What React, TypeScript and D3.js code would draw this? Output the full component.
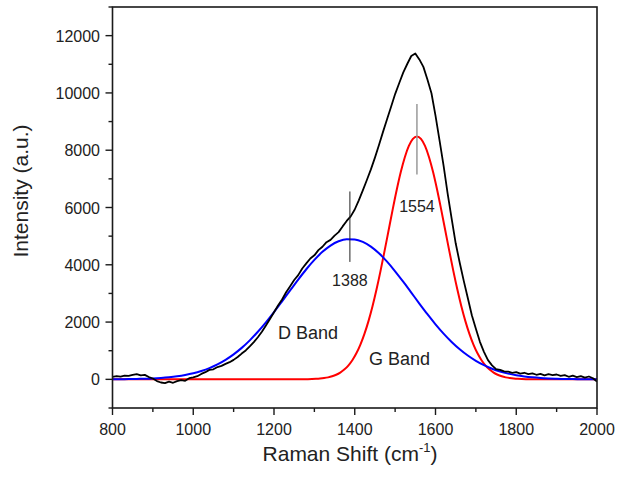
import React from "react";
import * as d3 from "d3";

// Raman shift grid of the measured spectrum (cm-1)
const shiftStart = 800;
const shiftStep = 10;
const measured = [
  90, 110, 95, 130, 120, 160, 185, 140, 155, 80,
  30, -60, -110, -130, -80, -120, -60, -30, -50, 40,
  70, 110, 190, 250, 330, 350, 430, 470, 540, 600,
  680, 780, 900, 1010, 1150, 1300, 1470, 1660, 1880, 2110,
  2340, 2580, 2790, 3040, 3250, 3470, 3640, 3870, 4050, 4220,
  4330, 4510, 4630, 4790, 4870, 5020, 5140, 5340, 5530, 5690,
  5930, 6250, 6600, 6960, 7330, 7740, 8180, 8640, 9080, 9520,
  9960, 10340, 10710, 11010, 11290, 11380, 11170, 10910, 10470, 9990,
  9210, 8340, 7460, 6490, 5610, 4750, 4070, 3440, 2840, 2240,
  1770, 1310, 960, 670, 490, 360, 330, 280, 270, 230,
  250, 200, 230, 180, 210, 160, 190, 140, 180, 150,
  170, 120, 150, 90, 130, 80, 110, 60, 100, 40,
  -80,
];

// D band fit (sampled every 20 cm-1 from 800)
const dBandStart = 800;
const dBandStep = 20;
const dBand = [
  4, 6, 9, 15, 23, 34, 51, 75, 108, 153,
  213, 293, 394, 522, 681, 872, 1099, 1362, 1661, 1991,
  2348, 2723, 3106, 3484, 3844, 4170, 4451, 4671, 4821, 4893,
  4885, 4797, 4632, 4399, 4109, 3774, 3410, 3030, 2647, 2275,
  1923, 1599, 1307, 1051, 831, 646, 494, 372, 275, 200,
  143, 101, 70, 47, 32, 21, 14, 9, 5, 3,
  2,
];

// G band fit (sampled every 10 cm-1 from 1254 to 1854)
const gBandStart = 1254;
const gBandStep = 10;
const gBand = [
  1, 2, 4, 6, 10, 17, 28, 45, 70, 107,
  160, 236, 341, 482, 669, 910, 1214, 1586, 2033, 2553,
  3145, 3797, 4494, 5216, 5934, 6618, 7236, 7756, 8150, 8396,
  8480,
  8396, 8150, 7756, 7236, 6618, 5934, 5216, 4494, 3797, 3145,
  2553, 2033, 1586, 1214, 910, 669, 482, 341, 236, 160,
  107, 70, 45, 28, 17, 10, 6, 4, 2, 1,
];

const peakPositions = [1388, 1554];
const peakLabels = ["1388", "1554"];
const peakMarkerRanges = [
  [4100, 6560],
  [7150, 9610],
];
const bandNames = ["D Band", "G Band"];
const bandLabelPos = [
  [1210, 1400],
  [1435, 500],
];

const xDomain = [800, 2000];
const yDomain = [-1000, 13000];
const xMajor = [800, 1000, 1200, 1400, 1600, 1800, 2000];
const yMajor = [0, 2000, 4000, 6000, 8000, 10000, 12000];

const W = 626;
const H = 477;
const L = 112.5;
const R = 597;
const T = 7;
const B = 408;
const FONT = "'Liberation Sans', Arial, Helvetica, sans-serif";

export default function App() {
  const x = d3.scaleLinear().domain(xDomain).range([L, R]);
  const y = d3.scaleLinear().domain(yDomain).range([B, T]);

  const toPts = (vals: number[], start: number, step: number) =>
    vals.map((v, i) => [start + i * step, v] as [number, number]);

  const measPts = toPts(measured, shiftStart, shiftStep);
  const dPts = toPts(dBand, dBandStart, dBandStep);
  const gPts: [number, number][] = [
    [800, 0],
    ...toPts(gBand, gBandStart, gBandStep),
    [2000, 0],
  ];

  const rough = d3
    .line<[number, number]>()
    .x((d) => x(d[0]))
    .y((d) => y(d[1]));
  const smooth = d3
    .line<[number, number]>()
    .x((d) => x(d[0]))
    .y((d) => y(d[1]))
    .curve(d3.curveMonotoneX);

  const xMinor = d3.range(900, 2000, 200);
  const yMinor = d3.range(-1000, 13001, 2000);

  return (
    <svg
      width={W}
      height={H}
      style={{ position: "absolute", left: 0, top: 0, background: "#fff" }}
      fontFamily={FONT}
    >
      <rect x={0} y={0} width={W} height={H} fill="#fff" />
      <defs>
        <clipPath id="plot">
          <rect x={L} y={T} width={R - L} height={B - T} />
        </clipPath>
      </defs>

      <g clipPath="url(#plot)">
        <path d={smooth(gPts) || ""} fill="none" stroke="#ff0000" strokeWidth={2} />
        <path d={smooth(dPts) || ""} fill="none" stroke="#0000ff" strokeWidth={2} />
        <path d={rough(measPts) || ""} fill="none" stroke="#000" strokeWidth={1.8} strokeLinejoin="round" />
      </g>

      {/* peak markers */}
      {peakPositions.map((p, i) => (
        <line
          key={"pm" + i}
          x1={x(p)}
          x2={x(p)}
          y1={y(peakMarkerRanges[i][0])}
          y2={y(peakMarkerRanges[i][1])}
          stroke={i === 0 ? "#222" : "#999"}
          strokeWidth={i === 0 ? 1 : 1.5}
        />
      ))}
      <text x={x(peakPositions[0])} y={286} fontSize={16} textAnchor="middle" fill="#222">
        {peakLabels[0]}
      </text>
      <text x={x(peakPositions[1])} y={212} fontSize={16} textAnchor="middle" fill="#222">
        {peakLabels[1]}
      </text>
      {bandNames.map((n, i) => (
        <text
          key={"bn" + i}
          x={x(bandLabelPos[i][0])}
          y={y(bandLabelPos[i][1])}
          fontSize={18}
          fill="#222"
        >
          {n}
        </text>
      ))}

      {/* frame */}
      <rect x={L} y={T} width={R - L} height={B - T} fill="none" stroke="#1a1a1a" strokeWidth={1.6} />

      {/* x ticks */}
      {xMajor.map((t) => (
        <g key={"xt" + t}>
          <line x1={x(t)} x2={x(t)} y1={B} y2={B + 7} stroke="#1a1a1a" strokeWidth={1.4} />
          <text x={x(t)} y={435} fontSize={16} textAnchor="middle" fill="#222">
            {t}
          </text>
        </g>
      ))}
      {xMinor.map((t) => (
        <line key={"xm" + t} x1={x(t)} x2={x(t)} y1={B} y2={B + 4} stroke="#1a1a1a" strokeWidth={1.4} />
      ))}

      {/* y ticks */}
      {yMajor.map((t) => (
        <g key={"yt" + t}>
          <line x1={L - 7} x2={L} y1={y(t)} y2={y(t)} stroke="#1a1a1a" strokeWidth={1.4} />
          <text x={100} y={y(t) + 6} fontSize={16} textAnchor="end" fill="#222">
            {t}
          </text>
        </g>
      ))}
      {yMinor.map((t) => (
        <line key={"ym" + t} x1={L - 4} x2={L} y1={y(t)} y2={y(t)} stroke="#1a1a1a" strokeWidth={1.4} />
      ))}

      {/* axis titles */}
      <text x={350} y={461} fontSize={21} textAnchor="middle" fill="#222">
        Raman Shift (cm
        <tspan fontSize={13} dy={-9}>
          -1
        </tspan>
        <tspan dy={9}>)</tspan>
      </text>
      <text
        transform={`translate(28, 191) rotate(-90)`}
        fontSize={21}
        textAnchor="middle"
        fill="#222"
      >
        Intensity (a.u.)
      </text>
    </svg>
  );
}
